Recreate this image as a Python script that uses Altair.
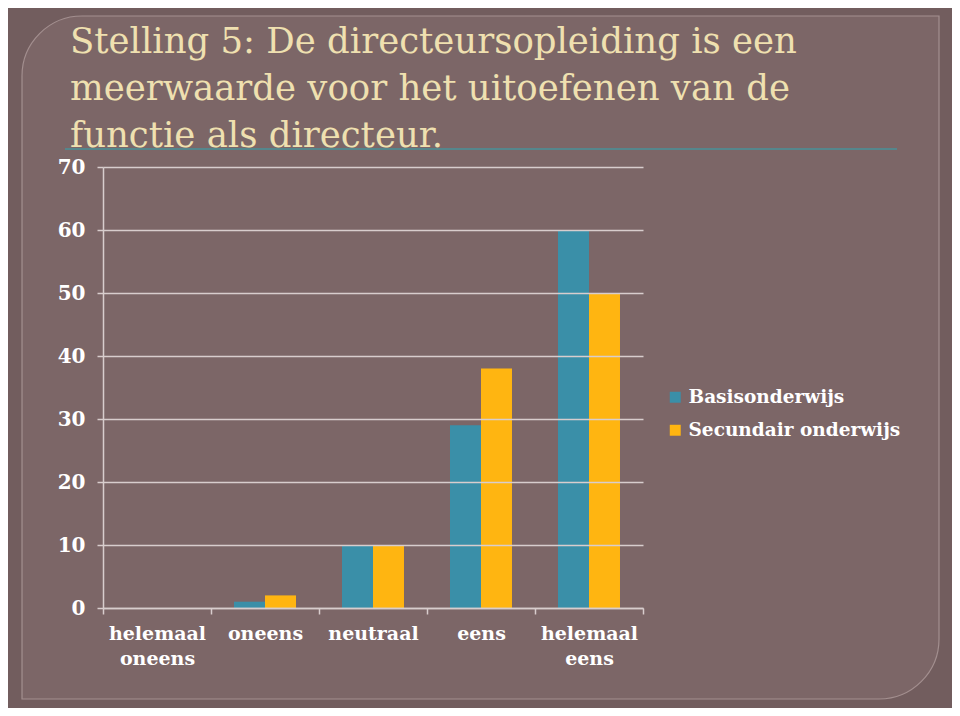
import altair as alt
import pandas as pd

categories = ["helemaal oneens", "oneens", "neutraal", "eens", "helemaal eens"]
series_names = ["Basisonderwijs", "Secundair onderwijs"]
basisonderwijs = [0, 1, 10, 29, 60]
secundair = [0, 2, 10, 38, 50]
title_lines = [
    "Stelling 5: De directeursopleiding is een",
    "meerwaarde voor het uitoefenen van de",
    "functie als directeur.",
]
y_ticks = [0, 10, 20, 30, 40, 50, 60, 70]

rows = []
for c, b, s in zip(categories, basisonderwijs, secundair):
    rows.append({"categorie": c, "reeks": series_names[0], "waarde": b})
    rows.append({"categorie": c, "reeks": series_names[1], "waarde": s})
df = pd.DataFrame(rows)

BG_OUT = "#725d5e"
BG_IN = "#7c6667"
FRAME = "#a38f8f"
GRID = "#d8cdcd"
TEAL = "#3a8fa8"
GOLD = "#ffb511"
TITLE_C = "#efe0b0"
LINE_TEAL = "#55868c"
FONT = "DejaVu Serif"

one = alt.Data(values=[{"k": 1}])

panel = alt.Chart(one).mark_rect(
    fill=BG_IN, stroke=FRAME, strokeWidth=1.2,
    cornerRadiusTopLeft=60, cornerRadiusBottomRight=60,
).encode(
    x=alt.value(-81), x2=alt.value(836), y=alt.value(-151), y2=alt.value(532)
)

underline = alt.Chart(one).mark_rule(color=LINE_TEAL, strokeWidth=2).encode(
    x=alt.value(-38), x2=alt.value(794), y=alt.value(-18)
)

title = alt.Chart(one).mark_text(
    align="left", baseline="alphabetic", lineBreak="\n", lineHeight=47,
    font=FONT, fontSize=35.5, color=TITLE_C,
).encode(
    x=alt.value(-33), y=alt.value(-114), text=alt.value("\n".join(title_lines))
)

bars = alt.Chart(df).mark_bar().encode(
    x=alt.X(
        "categorie:N", sort=categories, title=None,
        scale=alt.Scale(paddingInner=0, paddingOuter=0),
        axis=alt.Axis(
            labelAngle=0,
            labelExpr="isValid(datum.value) ? split(datum.value, ' ') : ''",
            labelFont=FONT, labelFontWeight="bold", labelFontSize=19,
            labelColor="white", labelLineHeight=25, labelPadding=10,
            tickBand="extent", tickSize=6, tickColor=GRID, tickWidth=1.5,
            domainColor=GRID, domainWidth=1.5, grid=False, zindex=1,
        ),
    ),
    xOffset=alt.XOffset(
        "reeks:N", sort=series_names,
        scale=alt.Scale(paddingInner=0, paddingOuter=0.742),
    ),
    y=alt.Y(
        "waarde:Q", title=None,
        scale=alt.Scale(domain=[0, 70], nice=False),
        axis=alt.Axis(
            values=y_ticks, labelFont=FONT, labelFontWeight="bold",
            labelFontSize=20, labelColor="white", labelPadding=12,
            tickSize=6, tickColor=GRID, tickWidth=1.5,
            domainColor=GRID, domainWidth=1.5,
            grid=True, gridColor=GRID, gridWidth=1.5, zindex=1,
        ),
    ),
    color=alt.Color(
        "reeks:N", sort=series_names,
        scale=alt.Scale(domain=series_names, range=[TEAL, GOLD]),
        legend=alt.Legend(
            title=None, orient="none", legendX=563, legendY=221,
            symbolType="square", symbolSize=120, symbolStrokeWidth=0,
            labelFont=FONT, labelFontWeight="bold", labelFontSize=18.5,
            labelColor="white", rowPadding=14, labelOffset=4, labelLimit=400,
        ),
    ),
)

chart = alt.layer(panel, underline, title, bars).properties(
    width=540, height=441,
    autosize=alt.AutoSizeParams(type="none"),
    padding={"left": 95, "top": 159, "right": 309, "bottom": 100},
    background=BG_OUT,
).configure_view(stroke=None)

chart.save("out.html", embed_options={"renderer": "svg", "actions": False})
